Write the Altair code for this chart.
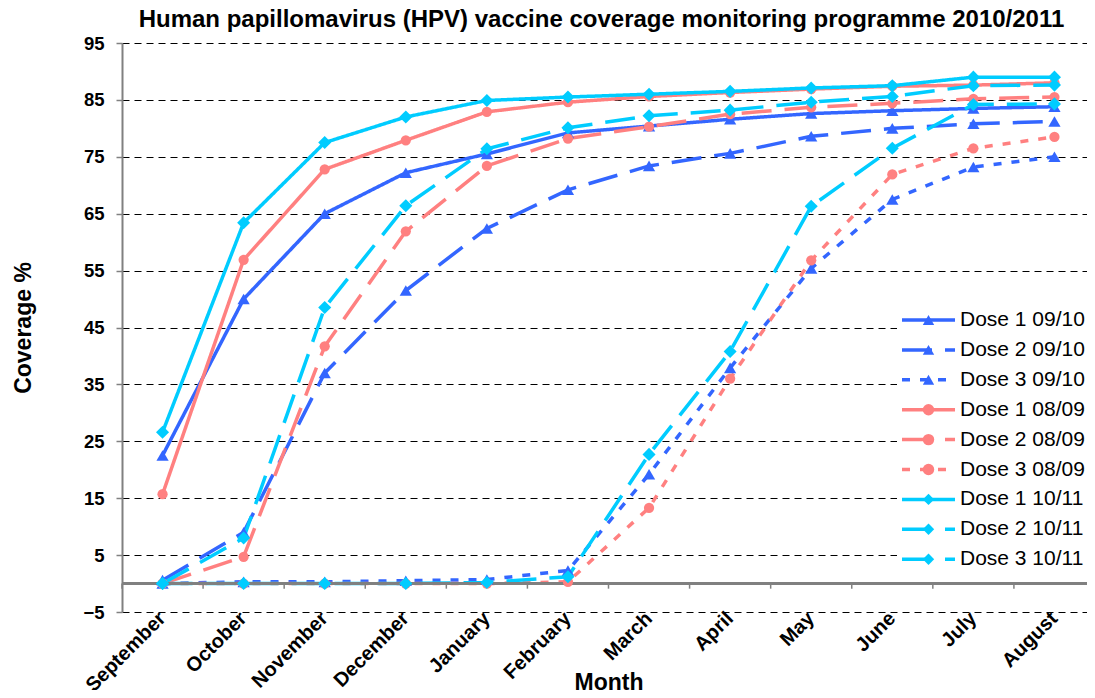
import altair as alt
import pandas as pd

months = ["September", "October", "November", "December", "January", "February",
          "March", "April", "May", "June", "July", "August"]

series_names = ["Dose 1 09/10", "Dose 2 09/10", "Dose 3 09/10",
                "Dose 1 08/09", "Dose 2 08/09", "Dose 3 08/09",
                "Dose 1 10/11", "Dose 2 10/11", "Dose 3 10/11"]

d1_0910 = [22.5, 50.0, 65.0, 72.2, 75.5, 79.2, 80.4, 81.6, 82.6, 83.1, 83.5, 83.8]
d2_0910 = [0.6, 9.0, 37.0, 51.5, 62.4, 69.2, 73.4, 75.6, 78.6, 80.0, 80.8, 81.2]
d3_0910 = [0.0, 0.3, 0.3, 0.5, 0.7, 2.3, 19.2, 37.9, 55.4, 67.5, 73.2, 75.0]
d1_0809 = [15.7, 56.9, 72.8, 77.9, 82.9, 84.6, 85.6, 86.3, 86.9, 87.4, 87.6, 88.0]
d2_0809 = [0.0, 4.7, 41.7, 61.9, 73.4, 78.2, 80.3, 82.5, 83.7, 84.4, 85.2, 85.5]
d3_0809 = [0.0, 0.0, 0.0, 0.0, 0.0, 0.3, 13.3, 36.0, 56.8, 71.9, 76.5, 78.5]
d1_1011 = [26.6, 63.4, 77.5, 82.0, 84.9, 85.5, 86.0, 86.5, 87.1, 87.5, 89.0, 89.0]
d2_1011 = [0.0, 8.0, 48.5, 66.4, 76.4, 80.1, 82.2, 83.2, 84.6, 85.6, 87.5, 87.6]
d3_1011 = [0.0, 0.0, 0.0, 0.0, 0.2, 1.2, 22.7, 40.8, 66.3, 76.5, 84.2, 84.3]

series_values = [d1_0910, d2_0910, d3_0910, d1_0809, d2_0809, d3_0809,
                 d1_1011, d2_1011, d3_1011]

y_ticks = [-5, 5, 15, 25, 35, 45, 55, 65, 75, 85, 95]

colors = ["#3366FF"] * 3 + ["#FF8080"] * 3 + ["#00CCFF"] * 3
dashes = [[1, 0], [30, 13], [8, 10],
          [1, 0], [30, 13], [8, 10],
          [1, 0], [30, 13], [30, 13]]
shapes = ["triangle-up"] * 3 + ["circle"] * 3 + ["diamond"] * 3
marker_sizes = [150] * 3 + [105] * 3 + [170] * 3

rows = []
for name, vals, ms in zip(series_names, series_values, marker_sizes):
    for m, v in zip(months, vals):
        rows.append({"month": m, "value": v, "series": name, "series_b": name, "msize": ms})
df = pd.DataFrame(rows)
month_df = pd.DataFrame({"month": months})

FONT = "Liberation Sans"

x_scale = alt.Scale(type="band", domain=months, paddingInner=0, paddingOuter=0)
y_scale = alt.Scale(domain=[-5, 95], nice=False, zero=False)

x_enc = alt.X("month:N", scale=x_scale, sort=months, title="Month",
              axis=alt.Axis(labelAngle=-45, labelAlign="right", labelBaseline="middle",
                            labelPadding=3, labelFont=FONT, labelFontSize=20,
                            labelFontWeight="bold", labelColor="black",
                            ticks=False, domain=False, grid=False,
                            titleFont=FONT, titleFontSize=23, titleFontWeight="bold",
                            titleColor="black", titleBaseline="alphabetic", titleY=77))
y_enc = alt.Y("value:Q", scale=y_scale, title="Coverage %",
              axis=alt.Axis(values=y_ticks, labelFont=FONT, labelFontSize=18.5,
                            labelFontWeight="bold", labelColor="black", labelPadding=12,
                            tickSize=6, tickColor="#808080", tickWidth=1.5,
                            domainColor="#808080", domainWidth=2,
                            grid=True, gridColor="black", gridDash=[7, 5], gridWidth=1,
                            titleFont=FONT, titleFontSize=23, titleFontWeight="bold",
                            titleColor="black", titlePadding=47))

legend_common = dict(orient="none", legendX=775, legendY=260, title=None,
                     padding=3, clipHeight=28, rowPadding=1.9,
                     labelFont=FONT, labelFontSize=21, labelColor="black", labelLimit=300)

legend_lines = alt.Legend(symbolType="stroke", symbolSize=2809, symbolStrokeWidth=3.5,
                          labelOffset=3, fillColor="white", **legend_common)
legend_marks = alt.Legend(symbolSize=130, symbolStrokeWidth=0, symbolOffset=18,
                          labelOffset=39, labelExpr="''",
                          symbolFillColor={"expr": "scale('color', datum.value)"},
                          **legend_common)

color_scale = alt.Scale(domain=series_names, range=colors)

zero_line = alt.Chart(month_df).mark_rule(color="#808080", strokeWidth=2).encode(
    y=alt.datum(0))

zero_ticks = alt.Chart(month_df).mark_rule(color="#808080", strokeWidth=1.5).encode(
    x=alt.X("month:N", scale=x_scale, sort=months, bandPosition=0),
    y=alt.datum(0), y2=alt.datum(-0.9))

lines = alt.Chart(df).mark_line(strokeWidth=3.5).encode(
    x=x_enc, y=y_enc,
    color=alt.Color("series:N", scale=color_scale, legend=legend_lines),
    strokeDash=alt.StrokeDash("series:N", scale=alt.Scale(domain=series_names, range=dashes),
                              legend=legend_lines),
    detail="series:N")

points = alt.Chart(df).mark_point(filled=True, opacity=1).encode(
    x=alt.X("month:N", scale=x_scale, sort=months),
    y=alt.Y("value:Q", scale=y_scale),
    color=alt.Color("series:N", scale=color_scale, legend=None),
    shape=alt.Shape("series_b:N", sort=series_names, scale=alt.Scale(range=shapes),
                    legend=legend_marks),
    size=alt.Size("msize:Q", scale=None))

chart = alt.layer(lines, zero_line, zero_ticks, points).properties(
    width=973, height=569,
    title=alt.TitleParams("Human papillomavirus (HPV) vaccine coverage monitoring programme 2010/2011",
                          font=FONT, fontSize=24, fontWeight="bold", color="black",
                          anchor="middle", offset=2, dx=-7),
    autosize=alt.AutoSizeParams(type="none"),
    padding={"left": 114, "top": 35, "right": -8, "bottom": 78},
    background="white",
).configure_view(stroke=None)

chart.save("out.html", embed_options={"renderer": "svg", "actions": False})
